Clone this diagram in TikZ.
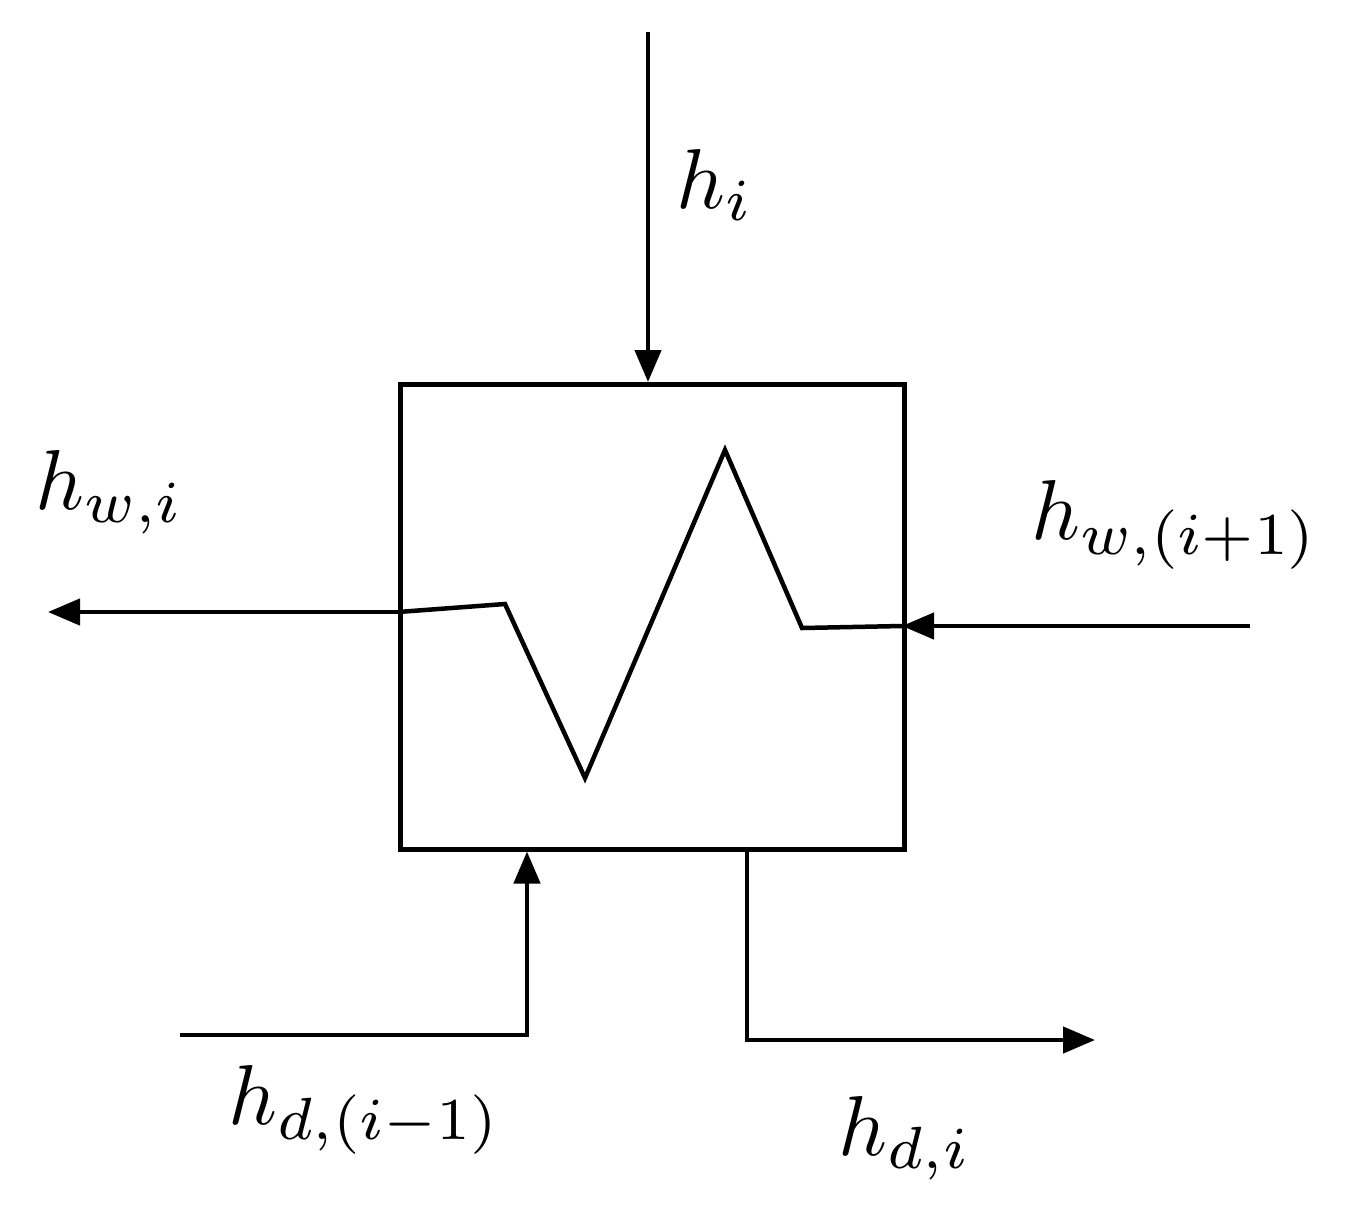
\documentclass[tikz,border=0pt]{standalone}
\usetikzlibrary{arrows.meta}
\begin{document}
\begin{tikzpicture}[x=1pt,y=-1pt,line width=4.5pt,
  arr/.style={-{Triangle[length=32pt,width=26pt]}},
  lab/.style={inner sep=0}]
\useasboundingbox (0,0) rectangle (1357,1208);
\node[draw,line width=4.5pt,minimum width=504pt,minimum height=465pt,inner sep=0,anchor=north west] (box) at (398,382) {};
\coordinate (top) at (648,32);
\draw[arr] (top) -- (box.north -| top);
\node[lab] (hi) at (715,185) {\scalebox{8.5}{$h_i$}};
\coordinate (z0) at (398,612);
\coordinate (z5) at (902,626);
\draw (z0) -- (505,604) -- (585,778) -- (725,450) -- (802,628) -- (z5);
\coordinate (lout) at (48,612);
\draw[arr] (z0) -- (lout);
\coordinate (rin) at (1250,626);
\draw[arr] (rin) -- (z5);
\node[lab] (hwi) at (110,492) {\scalebox{8.5}{$h_{w,i}$}};
\node[lab] (hwi1) at (1175,525) {\scalebox{8.5}{$h_{w,(i+1)}$}};
\coordinate (bl) at (180,1035);
\coordinate (blc) at (527,1035);
\draw[arr] (bl) -- (blc) -- (blc |- box.south);
\coordinate (brc) at (747,1040);
\coordinate (br) at (1095,1040);
\draw[arr] (brc |- box.south) -- (brc) -- (br);
\node[lab] (hd1) at (365,1110) {\scalebox{8.5}{$h_{d,(i-1)}$}};
\node[lab] (hdi) at (905,1138) {\scalebox{8.5}{$h_{d,i}$}};
\end{tikzpicture}
\end{document}
